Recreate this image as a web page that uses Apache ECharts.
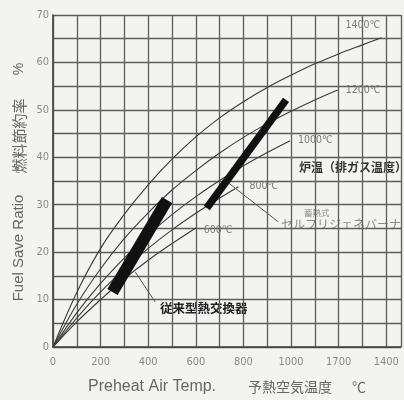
<!DOCTYPE html>
<html>
<head>
<meta charset="utf-8">
<script src="https://cdn.jsdelivr.net/npm/echarts@6/dist/echarts.min.js"></script>
<style>
  html, body { margin: 0; padding: 0; background: #f3f3f1; }
  #fuelSave { width: 404px; height: 400px; }
</style>
</head>
<body>
<div id="fuelSave"></div>
<script>
// 予熱空気温度 (x) と燃料節約率 (y) の読み取り値
const airTemp = [0, 100, 200, 300, 400, 500, 600, 700, 800, 900, 1000, 1100, 1200, 1300];
const gasTemps = ['1400℃', '1200℃', '1000℃', '800℃', '600℃'];
const save1400 = [0, 11.5, 20.8, 28.0, 34.2, 39.6, 44.3, 48.3, 51.7, 54.7, 57.3, 59.7, 61.8, 63.7];
const save1200 = [0, 9.0, 16.5, 22.9, 28.3, 33.1, 37.2, 40.9, 44.2, 47.1, 49.7, 52.1];
const save1000 = [0, 7.2, 13.4, 18.8, 23.6, 27.9, 31.7, 35.1, 38.2, 41.0];
const save800 = [0, 6.1, 11.6, 16.4, 20.8, 24.7, 28.2, 31.4];
const save600 = [0, 5.3, 10.0, 14.4, 18.3, 21.8];
// 各曲線の終点
const curveEndTemp = [1380, 1196, 996, 779, 600];
const curveEndSave = [65.2, 54.2, 43.5, 33.8, 25.1];

// 従来型熱交換器 / セルフリジェネバーナ の範囲
const conventionalTemp = [250, 479];
const conventionalSave = [11.6, 31.0];
const regenTemp = [646, 979];
const regenSave = [29.3, 52.1];
// 引出線
const conventionalLeadTemp = [346, 429];
const conventionalLeadSave = [15.8, 9.5];
const regenLeadTemp = [737, 946];
const regenLeadSave = [34.6, 26.4];

const xTickLabels = ['0', '200', '400', '600', '800', '1000', '1700', '1400'];
const yTickLabels = ['0', '10', '20', '30', '40', '50', '60', '70'];

const chart = echarts.init(document.getElementById('fuelSave'));

const narrow = 'Liberation Sans Narrow, DejaVu Sans Condensed, sans-serif';
const jp = '"Noto Sans CJK JP", sans-serif';

const curves = [save1400, save1200, save1000, save800, save600];
const labelOffsets = [[-44, -13], [0, 0], [0, 0], [3, 0], [0, 2]];

const pairs = (xs, ys) => ys.map((y, i) => [xs[i], y]);

const curveSeries = curves.map((vals, i) => {
  const data = pairs(airTemp, vals);
  data.push([curveEndTemp[i], curveEndSave[i]]);
  return {
    name: gasTemps[i],
    type: 'line',
    smooth: 0.35,
    symbol: 'none',
    silent: true,
    lineStyle: { color: '#3a3a3a', width: 1.1 },
    endLabel: {
      show: true,
      formatter: '{a}',
      color: '#7a7a7a',
      fontSize: 10.5,
      fontFamily: narrow,
      offset: labelOffsets[i]
    },
    data: data,
    z: 3
  };
});

const band = (xs, ys, w) => ({
  type: 'line',
  symbol: 'none',
  silent: true,
  lineStyle: { color: '#111', width: w, cap: 'butt' },
  data: pairs(xs, ys),
  z: 5
});

const lead = (xs, ys) => ({
  type: 'line',
  symbol: 'none',
  silent: true,
  lineStyle: { color: '#555', width: 1 },
  data: pairs(xs, ys),
  z: 4
});

const txt = (x, y, text, font, fill, extra) => ({
  type: 'text',
  x: x, y: y,
  rotation: extra && extra.rotation ? extra.rotation : 0,
  style: {
    text: text,
    fill: fill,
    font: font,
    align: extra && extra.align ? extra.align : 'left',
    verticalAlign: 'middle'
  }
});

const option = {
  backgroundColor: '#f3f3f1',
  animation: false,
  grid: { left: 53, top: 15, width: 351, height: 332 },
  xAxis: {
    type: 'value',
    min: 0,
    max: 1462,
    interval: 100,
    axisLine: { show: true, lineStyle: { color: '#404040', width: 1.6 } },
    axisTick: { show: false },
    splitLine: { show: true, lineStyle: { color: '#5c5c5c', width: 1.3 } },
    axisLabel: {
      margin: 10,
      color: '#8a8a8a',
      fontSize: 11,
      fontFamily: narrow,
      formatter: v => (v % 200 === 0 && v <= 1400 ? xTickLabels[v / 200] : '')
    }
  },
  yAxis: {
    type: 'value',
    min: 0,
    max: 70,
    interval: 5,
    axisLine: { show: true, lineStyle: { color: '#404040', width: 1.6 } },
    axisTick: { show: false },
    splitLine: { show: true, lineStyle: { color: '#5c5c5c', width: 1.3 } },
    axisLabel: {
      margin: 4,
      color: '#8a8a8a',
      fontSize: 11,
      fontFamily: narrow,
      formatter: v => (v % 10 === 0 ? yTickLabels[v / 10] : '')
    }
  },
  series: curveSeries.concat([
    band(conventionalTemp, conventionalSave, 12),
    band(regenTemp, regenSave, 7.5),
    lead(conventionalLeadTemp, conventionalLeadSave),
    lead(regenLeadTemp, regenLeadSave)
  ]),
  graphic: [
    // 縦軸タイトル
    txt(19, 248, 'Fuel Save Ratio', '15px "Liberation Sans", sans-serif', '#666', { rotation: Math.PI / 2, align: 'center' }),
    txt(19, 136, '燃料節約率', '15px ' + jp, '#666', { rotation: Math.PI / 2, align: 'center' }),
    txt(19, 69, '%', '14px "Liberation Sans", sans-serif', '#666', { rotation: Math.PI / 2, align: 'center' }),
    // 横軸タイトル
    txt(88, 387, 'Preheat Air Temp.', '16px "Liberation Sans", sans-serif', '#666'),
    txt(248, 387, '予熱空気温度', '14px ' + jp, '#666'),
    txt(352, 387, '℃', '14px ' + jp, '#666'),
    // 注記
    txt(160, 308, '従来型熱交換器', 'bold 12.5px ' + jp, '#222'),
    txt(299, 167, '炉温（排ガス温度）', 'bold 12px ' + jp, '#333'),
    txt(304, 213, '蓄熱式', '8.5px ' + jp, '#8a8a8a'),
    txt(281, 224, 'セルフリジェネバーナ', '12px ' + jp, '#8a8a8a')
  ]
};

chart.setOption(option);
</script>
</body>
</html>
